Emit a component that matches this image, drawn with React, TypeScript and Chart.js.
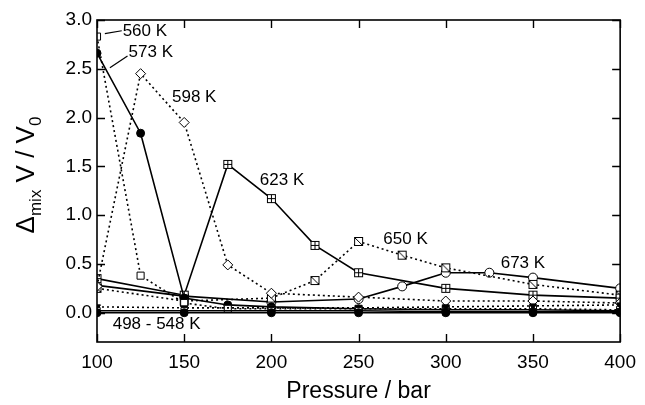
import React, { useEffect, useRef } from "react";
import { Chart, registerables } from "chart.js";
Chart.register(...registerables);

const xTicks = [100, 150, 200, 250, 300, 350, 400];
const yTicks = [0, 0.5, 1.0, 1.5, 2.0, 2.5, 3.0];

const p498 = [100, 150, 200, 250, 300, 350, 400];
const v498 = [0.0, 0.0, 0.0, 0.0, 0.0, 0.0, 0.0];
const p523 = [100, 150, 200, 250, 300, 350, 400];
const v523 = [0.02, 0.02, 0.02, 0.02, 0.01, 0.01, 0.01];
const p548 = [100, 150, 200, 250, 300, 350, 400];
const v548 = [0.06, 0.05, 0.05, 0.05, 0.06, 0.07, 0.08];
const p560 = [100, 125, 150, 175, 200, 250, 300, 350, 400];
const v560 = [2.83, 0.38, 0.1, 0.04, 0.04, 0.04, 0.04, 0.04, 0.03];
const p573 = [100, 125, 150, 175, 200, 250, 300, 350, 400];
const v573 = [2.66, 1.84, 0.15, 0.08, 0.06, 0.04, 0.03, 0.03, 0.02];
const p598 = [100, 125, 150, 175, 200, 250, 300, 350, 400];
const v598 = [0.27, 2.45, 1.95, 0.49, 0.2, 0.16, 0.12, 0.12, 0.1];
const p623 = [100, 150, 175, 200, 225, 250, 300, 350, 400];
const v623 = [0.35, 0.18, 1.52, 1.17, 0.69, 0.41, 0.25, 0.18, 0.15];
const p650 = [100, 150, 200, 225, 250, 275, 300, 350, 400];
const v650 = [0.25, 0.12, 0.15, 0.33, 0.73, 0.59, 0.46, 0.29, 0.18];
const p673 = [100, 150, 200, 250, 275, 300, 325, 350, 400];
const v673 = [0.28, 0.17, 0.11, 0.14, 0.27, 0.41, 0.41, 0.36, 0.25];

const labelTexts = ["560 K", "573 K", "598 K", "623 K", "650 K", "673 K", "498 - 548 K"];
const labelP = [114.7, 118.1, 143, 193.4, 264.2, 331.5, 109];
const labelV = [2.88, 2.67, 2.21, 1.36, 0.75, 0.51, -0.12];

const FONT = '"Liberation Sans", Arial, Helvetica, sans-serif';

function makeMarker(kind: string): HTMLCanvasElement {
  const s = 11;
  const c = document.createElement("canvas");
  c.width = s;
  c.height = s;
  const g = c.getContext("2d")!;
  g.fillStyle = "#fff";
  g.fillRect(1, 1, s - 2, s - 2);
  g.strokeStyle = "#000";
  g.lineWidth = 1;
  g.strokeRect(1.5, 1.5, s - 3, s - 3);
  g.beginPath();
  if (kind === "plus") {
    g.moveTo(s / 2, 1.5);
    g.lineTo(s / 2, s - 1.5);
    g.moveTo(1.5, s / 2);
    g.lineTo(s - 1.5, s / 2);
  } else if (kind === "slash") {
    g.moveTo(1.5, 1.5);
    g.lineTo(s - 1.5, s - 1.5);
  }
  g.stroke();
  return c;
}

const decor = {
  id: "decor",
  afterDraw(chart: any) {
    const { ctx, chartArea: a } = chart;
    const x = chart.scales.x;
    const y = chart.scales.y;
    ctx.save();
    ctx.strokeStyle = "#000";
    ctx.lineWidth = 1.6;
    ctx.strokeRect(a.left, a.top, a.right - a.left, a.bottom - a.top);
    ctx.lineWidth = 1.4;
    ctx.beginPath();
    for (const t of xTicks) {
      const px = Math.round(x.getPixelForValue(t)) + 0.5;
      ctx.moveTo(px, a.bottom);
      ctx.lineTo(px, a.bottom - 8);
      ctx.moveTo(px, a.top);
      ctx.lineTo(px, a.top + 8);
    }
    for (const t of yTicks) {
      const py = Math.round(y.getPixelForValue(t)) + 0.5;
      ctx.moveTo(a.left, py);
      ctx.lineTo(a.left + 8, py);
      ctx.moveTo(a.right, py);
      ctx.lineTo(a.right - 8, py);
    }
    ctx.stroke();

    // annotation labels
    ctx.fillStyle = "#000";
    ctx.font = `17px ${FONT}`;
    ctx.textAlign = "left";
    ctx.textBaseline = "middle";
    labelTexts.forEach((t, i) => {
      ctx.fillText(t, x.getPixelForValue(labelP[i]), y.getPixelForValue(labelV[i]));
    });
    // leader lines
    ctx.lineWidth = 1.2;
    ctx.beginPath();
    ctx.moveTo(x.getPixelForValue(104.5), y.getPixelForValue(2.86));
    ctx.lineTo(x.getPixelForValue(114.2), y.getPixelForValue(2.89));
    ctx.moveTo(x.getPixelForValue(117.5), y.getPixelForValue(2.63));
    ctx.lineTo(x.getPixelForValue(107.4), y.getPixelForValue(2.51));
    ctx.stroke();

    // x title
    ctx.font = `23px ${FONT}`;
    ctx.textAlign = "center";
    ctx.textBaseline = "alphabetic";
    ctx.fillText("Pressure / bar", (a.left + a.right) / 2, 398);

    // y title with subscripts
    const parts: [string, number, number][] = [
      ["\u0394", 26, 0],
      ["mix", 17, 7],
      [" V / V", 26, 0],
      ["0", 17, 7],
    ];
    let total = 0;
    for (const [s, f] of parts) {
      ctx.font = `${f}px ${FONT}`;
      total += ctx.measureText(s).width;
    }
    ctx.translate(34, (a.top + a.bottom) / 2 - 6);
    ctx.rotate(-Math.PI / 2);
    ctx.textAlign = "left";
    let cx = -total / 2;
    for (const [s, f, dy] of parts) {
      ctx.font = `${f}px ${FONT}`;
      ctx.fillText(s, cx, dy);
      cx += ctx.measureText(s).width;
    }
    ctx.restore();
  },
};

export default function App() {
  const ref = useRef<HTMLCanvasElement>(null);
  useEffect(() => {
    document.body.style.margin = "0";
    const plus = makeMarker("plus");
    const slash = makeMarker("slash");
    const mk = (
      label: string,
      p: number[],
      v: number[],
      dotted: boolean,
      style: any,
      fill: string,
      radius: number,
      rotation = 0
    ) => ({
      label,
      data: p.map((xv, i) => ({ x: xv, y: v[i] })),
      borderColor: "#000",
      borderWidth: 1.6,
      borderDash: dotted ? [2, 3] : [],
      pointStyle: style,
      pointRadius: radius,
      pointRotation: rotation,
      pointBackgroundColor: fill,
      pointBorderColor: "#000",
      pointBorderWidth: 1,
      tension: 0,
      fill: false,
    });
    const chart = new Chart(ref.current!, {
      type: "line",
      data: {
        datasets: [
          mk("498 K", p498, v498, false, "circle", "#000", 4),
          mk("523 K", p523, v523, false, "rect", "#fff", 4.5),
          mk("548 K", p548, v548, true, "triangle", "#000", 4, 180),
          mk("560 K", p560, v560, true, "rect", "#fff", 5),
          mk("573 K", p573, v573, false, "circle", "#000", 4),
          mk("598 K", p598, v598, true, "rectRot", "#fff", 5),
          mk("623 K", p623, v623, false, plus, "#fff", 5),
          mk("650 K", p650, v650, true, slash, "#fff", 5),
          mk("673 K", p673, v673, false, "circle", "#fff", 4.5),
        ] as any,
      },
      options: {
        animation: false,
        responsive: false,
        layout: { padding: { top: 20, right: 18, left: 0, bottom: 0 } },
        plugins: { legend: { display: false }, tooltip: { enabled: false } },
        scales: {
          x: {
            type: "linear",
            min: 100,
            max: 400,
            afterBuildTicks: (s: any) => {
              s.ticks = xTicks.map((v) => ({ value: v }));
            },
            afterFit: (s: any) => {
              s.height = 63;
            },
            grid: { display: false, drawTicks: false },
            border: { display: false },
            ticks: {
              color: "#000",
              font: { family: FONT, size: 19 },
              padding: 9,
              maxRotation: 0,
              callback: (v: any) => String(v),
            },
          },
          y: {
            type: "linear",
            min: -0.3,
            max: 3.0,
            afterBuildTicks: (s: any) => {
              s.ticks = yTicks.map((v) => ({ value: v }));
            },
            afterFit: (s: any) => {
              s.width = 97;
            },
            grid: { display: false, drawTicks: false },
            border: { display: false },
            ticks: {
              color: "#000",
              font: { family: FONT, size: 19 },
              padding: 5,
              callback: (v: any) => Number(v).toFixed(1),
            },
          },
        },
      },
      plugins: [decor],
    });
    return () => chart.destroy();
  }, []);
  return <canvas ref={ref} width={645} height={405} style={{ display: "block" }} />;
}
